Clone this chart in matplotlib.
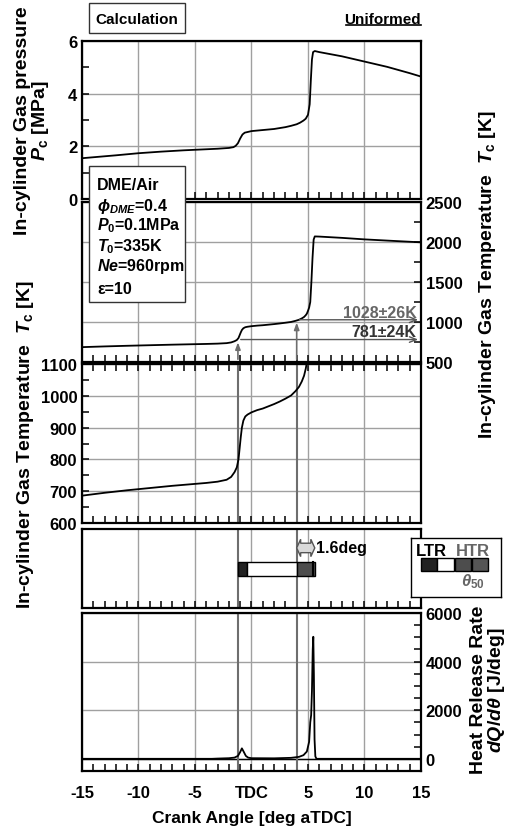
import numpy as np
import matplotlib
matplotlib.use('Agg')
import matplotlib.pyplot as plt
from matplotlib.ticker import MultipleLocator
from matplotlib.patches import Rectangle, Polygon
from matplotlib.lines import Line2D

plt.rcParams['font.family'] = ['Liberation Sans', 'DejaVu Sans']
plt.rcParams['font.weight'] = 'bold'
plt.rcParams['axes.labelweight'] = 'bold'
plt.rcParams['mathtext.fontset'] = 'custom'
plt.rcParams['mathtext.rm'] = 'Liberation Sans:bold'
plt.rcParams['mathtext.it'] = 'Liberation Sans:italic:bold'
plt.rcParams['mathtext.bf'] = 'Liberation Sans:bold'

# ---- data ----
p_angle = [-15, -12, -10, -8, -6, -4, -3, -2, -1.6, -1.4, -1.2, -1.0, -0.8, -0.6, -0.3,
           0, 1, 2, 3, 3.5, 4.0, 4.3, 4.6, 4.8, 5.0, 5.15, 5.25, 5.35, 5.45, 5.6,
           6, 7, 8, 9, 10, 11, 12, 13, 14, 15]
pressure = [1.55, 1.66, 1.74, 1.80, 1.85, 1.89, 1.91, 1.94, 1.97, 2.02, 2.12, 2.30, 2.45, 2.52, 2.55,
            2.58, 2.62, 2.66, 2.73, 2.78, 2.84, 2.90, 2.98, 3.05, 3.2, 3.6, 4.5, 5.3, 5.58, 5.62,
            5.58, 5.50, 5.42, 5.32, 5.22, 5.12, 5.02, 4.90, 4.78, 4.65]

t_angle = [-15, -13, -11, -9, -7, -5, -4, -3, -2.2, -1.8, -1.5, -1.3, -1.15, -1.05, -0.95,
           -0.85, -0.72, -0.55, -0.35, 0, 0.5, 1.0, 1.5, 2.0, 2.5, 3.0, 3.5, 3.9, 4.2,
           4.45, 4.65, 4.8, 4.9, 5.0, 5.1, 5.2, 5.3, 5.4, 5.5, 5.6, 6, 8, 10, 12, 15]
temperature = [686, 695, 703, 710, 717, 723, 726, 730, 736, 745, 760, 775, 800, 835, 870,
               900, 922, 935, 941, 948, 955, 960, 967, 974, 982, 991, 1001, 1015, 1028,
               1045, 1063, 1085, 1105, 1140, 1180, 1250, 1500, 1800, 2030, 2070, 2068, 2052, 2033, 2018, 1996]

h_angle = [-15, -3.5, -3, -2, -1.5, -1.2, -1.0, -0.85, -0.7, -0.5, -0.3, 0, 2, 3.5, 4.2,
           4.6, 4.9, 5.1, 5.2, 5.28, 5.35, 5.42, 5.47, 5.52, 5.58, 5.65, 5.75, 15]
hrr = [0, 0, 10, 25, 50, 120, 280, 430, 300, 120, 50, 25, 20, 40, 80,
       150, 300, 700, 1500, 1800, 2800, 4500, 5020, 3500, 800, 100, 0, 0]

marker_angle = [-1.2, 4.0]
marker_temp = [781, 1028]
marker_text = ['781\u00b124K', '1028\u00b126K']

seg_start = [-1.2, -0.4, 4.0]
seg_end = [-0.4, 4.0, 5.6]
seg_color = ['#222222', '#ffffff', '#4d4d4d']
theta50 = 5.4

x_labels = ['-15', '-10', '-5', 'TDC', '5', '10', '15']
x_ticks = [-15, -10, -5, 0, 5, 10, 15]

# ---- figure ----
fig = plt.figure(figsize=(5.17, 8.29), dpi=100)
L, W = 0.1586, 0.6557
ax1 = fig.add_axes([L, 0.7587, W, 0.1906])
ax2 = fig.add_axes([L, 0.5621, W, 0.1930])
ax3 = fig.add_axes([L, 0.3679, W, 0.1918])
ax4 = fig.add_axes([L, 0.2654, W, 0.0953])
ax5 = fig.add_axes([L, 0.0688, W, 0.1906])
axes = [ax1, ax2, ax3, ax4, ax5]

grid_c = '#a0a0a0'
mark_c = '#6e6e6e'
ylab_fs = 14
for ax in axes:
    ax.set_xlim(-15, 15)
    ax.set_xticks(x_ticks)
    ax.xaxis.set_minor_locator(MultipleLocator(1))
    ax.set_axisbelow(True)
    ax.grid(True, which='major', color=grid_c, lw=1)
    for s in ax.spines.values():
        s.set_linewidth(1.6)
    ax.tick_params(which='both', direction='in', length=5, width=1.1, labelsize=12,
                   top=False, left=False, right=False, labelbottom=False, labelleft=False)

# pressure
ax1.plot(p_angle, pressure, color='black', lw=1.3)
ax1.set_ylim(0, 6)
ax1.set_yticks([0, 2, 4, 6])
ax1.yaxis.set_minor_locator(MultipleLocator(1))
ax1.tick_params(axis='y', which='both', left=True, labelleft=True)
ax1.text(-0.145, 0.5, 'In-cylinder Gas pressure\n$P_\\mathrm{c}$ [MPa]', transform=ax1.transAxes,
         rotation=90, ha='center', va='center', fontsize=ylab_fs, linespacing=0.95)

# full temperature
ax2.plot(t_angle, temperature, color='black', lw=1.3)
ax2.set_ylim(500, 2500)
ax2.set_yticks([500, 1000, 1500, 2000, 2500])
ax2.yaxis.set_minor_locator(MultipleLocator(250))
ax2.tick_params(axis='y', which='both', right=True, labelright=True)
ax2.text(1.195, 0.55, 'In-cylinder Gas Temperature  $T_\\mathrm{c}$ [K]', transform=ax2.transAxes,
         rotation=90, ha='center', va='center', fontsize=ylab_fs)
for xa, ta, lab, tc in zip(marker_angle, marker_temp, marker_text, ['#333333', '#666666']):
    ax2.annotate('', xy=(xa, ta), xytext=(xa, 500),
                 arrowprops=dict(arrowstyle='-|>,head_length=0.4,head_width=0.15', color=mark_c, lw=1.2))
    ax2.annotate('', xy=(15, ta), xytext=(xa, ta),
                 arrowprops=dict(arrowstyle='->,head_length=0.5,head_width=0.2', color='#555555', lw=1))
    ax2.text(14.6, ta + 95, lab, ha='right', va='center', fontsize=11.5, color=tc)

# zoomed temperature
ax3.plot(t_angle, temperature, color='black', lw=1.3)
ax3.set_ylim(600, 1100)
ax3.set_yticks([600, 700, 800, 900, 1000, 1100])
ax3.yaxis.set_minor_locator(MultipleLocator(50))
ax3.tick_params(axis='y', which='both', left=True, labelleft=True)
ax3.tick_params(axis='x', which='both', top=True)
ax3.text(-0.168, 0.5, 'In-cylinder Gas Temperature  $T_\\mathrm{c}$ [K]', transform=ax3.transAxes,
         rotation=90, ha='center', va='center', fontsize=ylab_fs)

# combustion phase bar
ax4.set_ylim(0, 1)
ax4.set_yticks([])
ax4.barh([0.49] * 3, np.subtract(seg_end, seg_start), left=seg_start, height=0.18,
         color=seg_color, edgecolor='black', lw=1, zorder=3)
ax4.plot([theta50, theta50], [0.40, 0.58], color='black', lw=1.5, zorder=4)
x0, x1, yc, hh, hb, hl = seg_start[2], seg_end[2], 0.76, 0.11, 0.06, 0.35
arrow_pts = [(x0, yc), (x0 + hl, yc + hh), (x0 + hl, yc + hb), (x1 - hl, yc + hb), (x1 - hl, yc + hh),
             (x1, yc), (x1 - hl, yc - hh), (x1 - hl, yc - hb), (x0 + hl, yc - hb), (x0 + hl, yc - hh)]
ax4.add_patch(Polygon(arrow_pts, closed=True, fc='#d9d9d9', ec='#555555', lw=1, zorder=4))
ax4.text(x1 + 0.1, yc, '1.6deg', ha='left', va='center', fontsize=11.5)

# heat release rate
ax5.plot(h_angle, hrr, color='black', lw=1.3)
ax5.set_ylim(-500, 6000)
ax5.set_yticks([0, 2000, 4000, 6000])
ax5.yaxis.set_minor_locator(MultipleLocator(500))
ax5.tick_params(axis='y', which='both', right=True, labelright=True)
ax5.tick_params(axis='x', labelbottom=True, pad=10)
ax5.set_xticklabels(x_labels)
ax5.axhline(0, color='black', lw=1, zorder=1)
ax5.set_xlabel('Crank Angle [deg aTDC]', fontsize=12.5, labelpad=7)
ax5.text(1.20, 0.52, 'Heat Release Rate\n$dQ/d\\theta$ [J/deg]', transform=ax5.transAxes,
         rotation=90, ha='center', va='center', fontsize=ylab_fs, linespacing=0.95)

for ax in [ax3, ax4, ax5]:
    for xa in marker_angle:
        ax.axvline(xa, color=mark_c, lw=1.5, zorder=1)

# legend for the phase bar
axl = fig.add_axes([0.7944, 0.2787, 0.1741, 0.0712])
axl.set_xlim(0, 90)
axl.set_ylim(59, 0)
axl.set_xticks([])
axl.set_yticks([])
for s in axl.spines.values():
    s.set_linewidth(1)
leg_x = [10, 26.6, 44, 61]
leg_c = ['#222222', '#ffffff', '#4d4d4d', '#555555']
for lx, lc in zip(leg_x, leg_c):
    axl.add_patch(Rectangle((lx, 20), 16.6, 12.7, fc=lc, ec='black', lw=1))
axl.text(20.8, 12.7, 'LTR', ha='center', va='center', fontsize=12)
axl.text(62.3, 12.7, 'HTR', ha='center', va='center', fontsize=12, color='#666666')
axl.text(61.8, 43, '$\\theta_{50}$', ha='center', va='center', fontsize=12, color='#666666')

# boxes and headers
H = 829.0
Wd = 517.0
fig.add_artist(Rectangle((89 / Wd, 1 - 34 / H), 96 / Wd, 30 / H, transform=fig.transFigure,
                         fc='white', ec='#333333', lw=1, zorder=5))
fig.text(137 / Wd, 1 - 20.5 / H, 'Calculation', ha='center', va='center', fontsize=11, zorder=6)
fig.text(421 / Wd, 1 - 24 / H, 'Uniformed', ha='right', va='baseline', fontsize=11)
fig.add_artist(Line2D([346 / Wd, 421 / Wd], [1 - 26 / H, 1 - 26 / H], transform=fig.transFigure,
                      color='black', lw=1.2))

fig.add_artist(Rectangle((89 / Wd, 1 - 303 / H), 96 / Wd, 136 / H, transform=fig.transFigure,
                         fc='white', ec='#333333', lw=1, zorder=5))
cond_lines = ['DME/Air', '$\\phi_{DME}$=0.4', '$P_{\\mathit{0}}$=0.1MPa', '$T_{\\mathit{0}}$=335K',
              '$Ne$=960rpm', '\u03b5=10']
cond_y = [185, 206, 226, 247, 267, 289]
for txt, yy in zip(cond_lines, cond_y):
    fig.text(97 / Wd, 1 - yy / H, txt, ha='left', va='center', fontsize=11.5, zorder=6)

fig.savefig('out.png', dpi=100)
